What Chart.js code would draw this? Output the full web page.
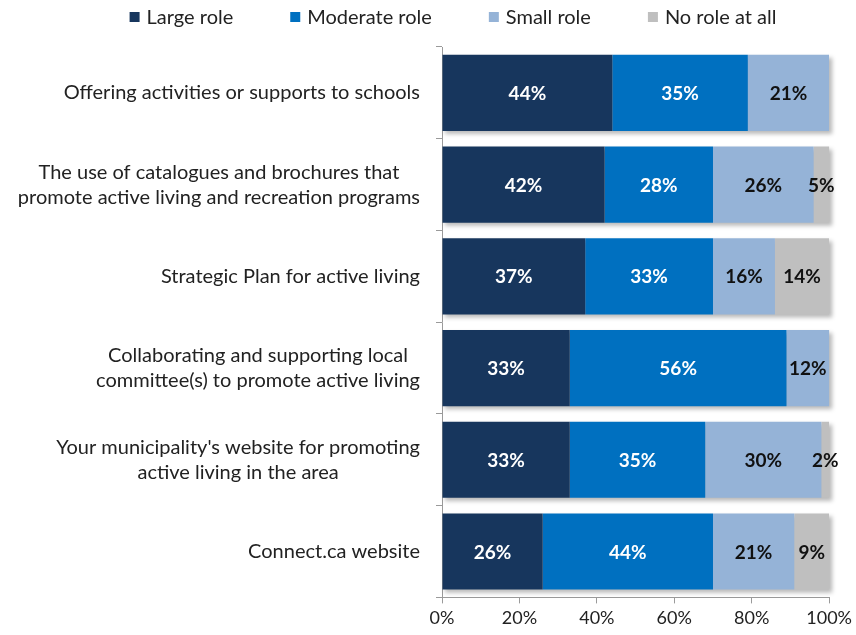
<!DOCTYPE html>
<html>
<head>
<meta charset="utf-8">
<script src="https://cdn.jsdelivr.net/npm/chart.js@4.4.0/dist/chart.umd.min.js"></script>
<style>
  html, body { margin: 0; padding: 0; background: #fff; }
  #wrap { width: 856px; height: 635px; }
</style>
</head>
<body>
<div id="wrap"><canvas id="chart"></canvas></div>
<script>
// categories (multi-line labels as arrays)
const categories = [
    ['Offering activities or supports to schools'],
    ['The use of catalogues and brochures that', 'promote active living and recreation programs'],
    ['Strategic Plan for active living'],
    ['Collaborating and supporting local', 'committee(s) to promote active living'],
    ["Your municipality's website for promoting", 'active living in the area'],
    ['Connect.ca website']
];
const seriesNames = ['Large role', 'Moderate role', 'Small role', 'No role at all'];
const largeRole    = [44, 42, 37, 33, 33, 26];
const moderateRole = [35, 28, 33, 56, 35, 44];
const smallRole    = [21, 26, 16, 12, 30, 21];
const noRole       = [0, 5, 14, 0, 2, 9];
const xTicks = [0, 20, 40, 60, 80, 100];

const colors = ['#17365D', '#0070C0', '#95B3D7', '#BFBFBF'];
const labelColors = ['#ffffff', '#ffffff', '#111111', '#111111'];
const FONT = 'Lato, "Liberation Sans", sans-serif';

///////////////////////////////////////////////////////////////// Plugins ///////////////////////////////////////////////////////////////////////////////////

// soft shadow behind each stacked bar
const barShadow = {
    id: 'barShadow',
    beforeDatasetsDraw(chart) {
        const ctx = chart.ctx, xs = chart.scales.x, ys = chart.scales.y;
        const meta = chart.getDatasetMeta(0);
        ctx.save();
        ctx.fillStyle = 'rgba(0,0,0,0.28)';
        ctx.filter = 'blur(2px)';
        categories.forEach((c, i) => {
            let total = 0;
            chart.data.datasets.forEach(d => total += d.data[i]);
            const x0 = xs.getPixelForValue(0);
            const x1 = xs.getPixelForValue(Math.min(total, 100));
            const h = meta.data[i].height;
            const y = ys.getPixelForValue(i) - h / 2;
            ctx.fillRect(x0 + 3, y + 3, x1 - x0, h);
        });
        ctx.restore();
    }
};

// percentage labels inside segments
const segmentLabels = {
    id: 'segmentLabels',
    afterDatasetsDraw(chart) {
        const ctx = chart.ctx;
        ctx.save();
        ctx.font = 'bold 19px ' + FONT;
        ctx.textAlign = 'center';
        ctx.textBaseline = 'middle';
        chart.data.datasets.forEach((ds, di) => {
            const meta = chart.getDatasetMeta(di);
            meta.data.forEach((el, i) => {
                const v = ds.data[i];
                if (!v) return;
                const right = Math.min(el.x, chart.chartArea.right);
                ctx.fillStyle = labelColors[di];
                ctx.fillText(v + '%', (el.base + right) / 2, el.y + 1);
            });
        });
        ctx.restore();
    }
};

// category labels: lines centred on each other, block right-aligned to the axis
const categoryLabels = {
    id: 'categoryLabels',
    afterDraw(chart) {
        const ctx = chart.ctx, ys = chart.scales.y;
        const rightEdge = chart.chartArea.left - 22;
        const lineH = 25;
        ctx.save();
        ctx.font = '20px ' + FONT;
        ctx.fillStyle = '#222';
        ctx.textAlign = 'center';
        ctx.textBaseline = 'middle';
        categories.forEach((lines, i) => {
            const w = Math.max(...lines.map(l => ctx.measureText(l).width));
            const cx = rightEdge - w / 2;
            const yc = ys.getPixelForValue(i);
            lines.forEach((l, k) => {
                ctx.fillText(l, cx, yc + (k - (lines.length - 1) / 2) * lineH);
            });
        });
        ctx.restore();
    }
};

// legend across the top
const topLegend = {
    id: 'topLegend',
    afterDraw(chart) {
        const ctx = chart.ctx;
        const box = 10, gapText = 7, gapItem = 57;
        ctx.save();
        ctx.font = '20px ' + FONT;
        ctx.textBaseline = 'middle';
        const widths = seriesNames.map(n => box + gapText + ctx.measureText(n).width);
        const total = widths.reduce((a, b) => a + b, 0) + gapItem * (widths.length - 1);
        let x = 453 - total / 2;
        const y = 17;
        seriesNames.forEach((n, i) => {
            ctx.fillStyle = colors[i];
            ctx.fillRect(x, y - box / 2, box, box);
            ctx.fillStyle = '#222';
            ctx.fillText(n, x + box + gapText, y + 1);
            x += widths[i] + gapItem;
        });
        ctx.restore();
    }
};

///////////////////////////////////////////////////////////////// Chart ///////////////////////////////////////////////////////////////////////////////////

const series = [largeRole, moderateRole, smallRole, noRole];

new Chart(document.getElementById('chart'), {
    type: 'bar',
    data: {
        labels: categories.map(c => c.join(' ')),
        datasets: series.map((d, i) => ({
            label: seriesNames[i],
            data: d,
            backgroundColor: colors[i],
            borderWidth: 0,
            categoryPercentage: 1,
            barPercentage: 0.83
        }))
    },
    options: {
        indexAxis: 'y',
        responsive: true,
        maintainAspectRatio: false,
        animation: false,
        layout: {
            padding: { left: 76, right: 26, top: 47, bottom: 2 }
        },
        plugins: {
            legend: { display: false },
            tooltip: { enabled: false }
        },
        scales: {
            x: {
                stacked: true,
                min: 0,
                max: 100,
                afterBuildTicks: (s) => { s.ticks = xTicks.map(v => ({ value: v })); },
                ticks: {
                    callback: (v) => v + '%',
                    color: '#222',
                    font: { family: FONT, size: 18 },
                    padding: 4,
                    maxRotation: 0
                },
                grid: {
                    drawOnChartArea: false,
                    drawTicks: true,
                    tickLength: 6,
                    color: '#9a9a9a'
                },
                border: { display: true, color: '#9a9a9a' }
            },
            y: {
                stacked: true,
                ticks: { display: false },
                afterFit: (s) => { s.width = 366; },
                grid: {
                    offset: true,
                    drawOnChartArea: false,
                    drawTicks: true,
                    tickLength: 6,
                    color: '#9a9a9a'
                },
                border: { display: true, color: '#9a9a9a' }
            }
        }
    },
    plugins: [barShadow, segmentLabels, categoryLabels, topLegend]
});
</script>
</body>
</html>
